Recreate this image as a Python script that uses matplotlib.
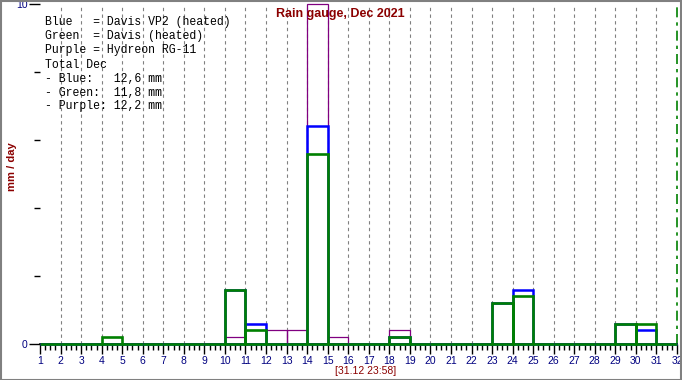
import numpy as np
import matplotlib.pyplot as plt
from matplotlib.patches import Rectangle

# Tagesniederschlag Dezember 2021 (mm/Tag), Tag 1..31
tage = list(range(1, 32))
blau = [0, 0, 0, 0, 0, 0, 0, 0, 0, 1.6, 0.6, 0, 0, 6.4, 0, 0, 0, 0.2, 0, 0, 0, 0, 1.2, 1.6, 0, 0, 0, 0, 0.6, 0.4, 0]
gruen = [0, 0, 0, 0.2, 0, 0, 0, 0, 0, 1.6, 0.4, 0, 0, 5.6, 0, 0, 0, 0.2, 0, 0, 0, 0, 1.2, 1.4, 0, 0, 0, 0, 0.6, 0.6, 0]
lila = [0, 0, 0, 0, 0, 0, 0, 0, 0, 0.2, 0.6, 0.4, 0.4, 10.0, 0.2, 0, 0, 0.4, 0, 0, 0, 0, 0, 0, 0, 0, 0, 0, 0, 0, 0]
xlabels = [str(i) for i in range(1, 33)]

legende = [
    'Blue   = Davis VP2 (heated)',
    'Green  = Davis (heated)',
    'Purple = Hydreon RG-11',
    'Total Dec',
    '- Blue:   12,6 mm',
    '- Green:  11,8 mm',
    '- Purple: 12,2 mm',
]

W, H = 682, 380
fig = plt.figure(figsize=(W / 100, H / 100), dpi=100)
fig.patch.set_facecolor('white')
ax = fig.add_axes([40 / W, 36 / H, 637 / W, 340 / H])

# Gitterlinien
for d in range(2, 32):
    ax.axvline(d, color='gray', ls=(0, (3, 3)), lw=0.8, zorder=1)
ax.axvline(32, color='green', ls=(0, (6, 3, 2, 3)), lw=1.2, zorder=1, clip_on=False)

# Balken als Umrisse
ax.bar(tage, lila, width=1, align='edge', fill=False, edgecolor='#800080', lw=0.9, zorder=2, clip_on=False)
ax.bar(tage, blau, width=1, align='edge', fill=False, edgecolor='#0000ff', lw=1.8, zorder=3, clip_on=False)
ax.bar(tage, gruen, width=1, align='edge', fill=False, edgecolor='#008000', lw=1.9, zorder=4, clip_on=False)

ax.set_xlim(1, 32)
ax.set_ylim(0, 10)
for s in ['top', 'right', 'left']:
    ax.spines[s].set_visible(False)
ax.spines['bottom'].set_color('black')
ax.spines['bottom'].set_linewidth(1.2)
ax.spines['bottom'].set_zorder(1.5)

ax.set_xticks(range(1, 33))
ax.set_xticklabels(xlabels, color='#000080', fontsize=7.5, family='Liberation Sans')
ax.set_xticks(np.arange(1, 32, 0.25), minor=True)
ax.tick_params(axis='x', which='major', length=7, width=1, pad=2, color='black')
ax.tick_params(axis='x', which='minor', length=4, width=1, color='black')

ax.set_yticks([0, 10])
ax.set_yticklabels(['0', '10'], color='#000080', fontsize=7.5, family='Liberation Sans')
ax.set_yticks([2, 4, 6, 8], minor=True)
ax.tick_params(axis='y', which='major', length=8, width=1, pad=1, color='black')
ax.tick_params(axis='y', which='minor', length=4, width=1, color='black')

fig.text(340 / W, 1 - 14 / H, 'Rain gauge, Dec 2021', color='#8b0000', fontsize=9,
         fontweight='bold', family='Liberation Sans', ha='center', va='center')
fig.text(12 / W, 1 - 167 / H, 'mm / day', color='#8b0000', fontsize=8,
         fontweight='bold', family='Liberation Sans', rotation=90, ha='center', va='center')
fig.text(366 / W, 1 - 371 / H, '[31.12 23:58]', color='#8b0000', fontsize=7.5,
         family='Liberation Sans', ha='center', va='center')

for i, zeile in enumerate(legende):
    fig.text(45 / W, 1 - (22.5 + 14 * i) / H, zeile, family='Liberation Mono',
             fontsize=8.3, color='black', ha='left', va='center')

# Rahmen um das Bild
fig.add_artist(Rectangle((0.5 / W, 0.5 / H), 1 - 1.5 / W, 1 - 1.5 / H, transform=fig.transFigure,
                         fill=False, edgecolor='gray', lw=1.5))

plt.savefig('out.png', dpi=100)
